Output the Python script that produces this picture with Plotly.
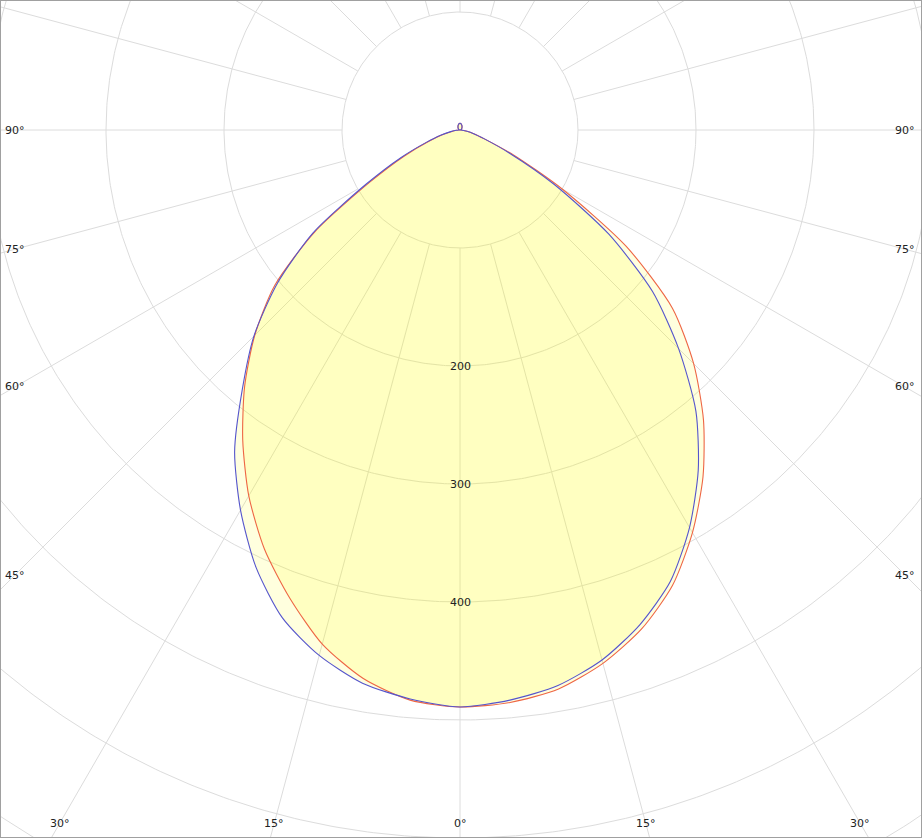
import numpy as np
import plotly.graph_objects as go

# ---------------- data (luminous intensity, cd) ----------------
gamma = [0, 5, 10, 15, 20, 25, 30, 35, 40, 45, 50, 55, 60, 65, 70, 75, 80, 85, 90,
         95, 100, 105, 110, 115, 120, 125, 130, 135, 140, 145, 150, 155, 160, 165, 170, 175, 180]

# blue curve (C0 right / C180 left)
blue_c0 = [489, 485, 478, 465, 446, 422, 389, 352, 311, 262, 213, 154, 92, 46, 22, 12, 6, 2, 0.5,
           0.3, 0.5, 0.7, 0.9, 1.1, 1.3, 1.6, 1.9, 2.2, 2.6, 3.0, 3.4, 3.9, 4.4, 4.9, 5.3, 5.6, 5.8]
blue_c180 = [489, 484, 476, 461, 440, 409, 372, 333, 287, 247, 202, 152, 92, 55, 30, 17, 8, 3, 0.5,
             0.3, 0.5, 0.7, 0.9, 1.1, 1.3, 1.6, 1.9, 2.2, 2.6, 3.0, 3.4, 3.9, 4.4, 4.9, 5.3, 5.6, 5.8]
# red curve (C90 right / C270 left)
red_c90 = [489, 487, 481, 468, 450, 426, 394, 359, 321, 280, 235, 172, 100, 50, 22, 12, 6, 2, 0.5,
           0.3, 0.5, 0.7, 0.9, 1.1, 1.3, 1.6, 1.9, 2.2, 2.6, 3.0, 3.4, 3.9, 4.4, 4.9, 5.3, 5.6, 5.8]
red_c270 = [489, 485, 472, 451, 422, 392, 358, 321, 284, 246, 205, 150, 88, 52, 28, 15, 7, 3, 0.5,
            0.3, 0.5, 0.7, 0.9, 1.1, 1.3, 1.6, 1.9, 2.2, 2.6, 3.0, 3.4, 3.9, 4.4, 4.9, 5.3, 5.6, 5.8]

ring_values = [100, 200, 300, 400, 500, 600, 700, 800, 900, 1000]
ring_labels = [200, 300, 400]
spoke_angles = list(range(-180, 180, 15))
angle_labels = [0, 15, 30, 45, 60, 75, 90]

# ---------------- layout constants ----------------
W, H = 922, 838
PX_PER_CD = 1.18
CX, CY = 460, 130          # pixel position of the pole
X_RANGE = [-CX / PX_PER_CD, (W - CX) / PX_PER_CD]
Y_RANGE = [-(H - CY) / PX_PER_CD, CY / PX_PER_CD]
LABEL_X = 445 / PX_PER_CD  # inset for angle labels on the sides
LABEL_Y = 693 / PX_PER_CD  # inset for angle labels at the bottom

GRID = "#dcdcdc"
BLUE = "#5555cc"
RED = "#ee6644"
FILL = "rgba(255,255,0,0.13)"
FONT = dict(family="DejaVu Sans", size=11, color="#222222")
SMOOTH = 0.7


def to_xy(g_deg, inten, side):
    g = np.radians(np.asarray(g_deg, dtype=float))
    i = np.asarray(inten, dtype=float)
    return side * i * np.sin(g), -i * np.cos(g)


def curve(right, left):
    xr, yr = to_xy(gamma, right, 1)
    xl, yl = to_xy(gamma, left, -1)
    x = np.concatenate([xr, xl[::-1]])
    y = np.concatenate([yr, yl[::-1]])
    return x, y


fig = go.Figure()

# grid rings
gx, gy = [], []
t = np.linspace(0, 2 * np.pi, 721)
for r in ring_values:
    gx += list(r * np.cos(t)) + [None]
    gy += list(r * np.sin(t)) + [None]
# spokes (starting at the first ring)
for a in spoke_angles:
    sx, sy = to_xy([a, a], [ring_values[0], ring_values[-1]], 1)
    gx += list(sx) + [None]
    gy += list(sy) + [None]
fig.add_trace(go.Scatter(x=gx, y=gy, mode="lines", line=dict(color=GRID, width=1),
                         hoverinfo="skip", showlegend=False))

# fills
for right, left in [(blue_c0, blue_c180), (red_c90, red_c270)]:
    x, y = curve(right, left)
    fig.add_trace(go.Scatter(x=x, y=y, mode="lines", fill="toself", fillcolor=FILL,
                             line=dict(width=0, shape="spline", smoothing=SMOOTH),
                             hoverinfo="skip", showlegend=False))

# outlines
for (right, left), col, name in [((red_c90, red_c270), RED, "C90-C270"),
                                 ((blue_c0, blue_c180), BLUE, "C0-C180")]:
    x, y = curve(right, left)
    fig.add_trace(go.Scatter(x=x, y=y, mode="lines",
                             line=dict(color=col, width=1.1, shape="spline", smoothing=SMOOTH),
                             name=name, showlegend=False))

# radial labels
for r in ring_labels:
    fig.add_annotation(x=0, y=-r, text=str(r), showarrow=False, font=FONT,
                       xanchor="center", yanchor="middle")

# angle labels
for g in angle_labels:
    s, c = np.sin(np.radians(g)), np.cos(np.radians(g))
    t_side = LABEL_X / s if s > 1e-9 else np.inf
    t_bot = LABEL_Y / c if c > 1e-9 else np.inf
    tt = min(t_side, t_bot)
    sides = [1] if g == 0 else [-1, 1]
    for sd in sides:
        fig.add_annotation(x=sd * tt * s, y=-tt * c, text=f"{g}°", showarrow=False,
                           font=FONT, xanchor="center", yanchor="middle")

# border
fig.add_shape(type="rect", xref="paper", yref="paper", x0=0, y0=0, x1=1, y1=1,
              line=dict(color="#a0a0a0", width=2))

fig.update_layout(
    width=W, height=H, margin=dict(l=0, r=0, t=0, b=0),
    paper_bgcolor="white", plot_bgcolor="white",
    xaxis=dict(range=X_RANGE, visible=False, fixedrange=True),
    yaxis=dict(range=Y_RANGE, visible=False, fixedrange=True),
    showlegend=False,
)
fig.write_html("out.html", config={"displayModeBar": False},
               post_script="document.body.style.margin='0';document.body.style.overflow='hidden';")
